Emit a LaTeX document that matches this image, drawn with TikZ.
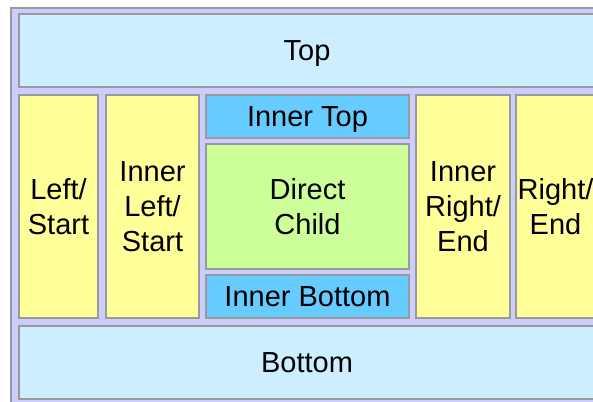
\documentclass[tikz,border=0pt]{standalone}
\usepackage{fontspec}
\setmainfont{Liberation Sans}
\definecolor{lav}{HTML}{CCCCFF}
\definecolor{edge}{HTML}{999999}
\definecolor{paleblue}{HTML}{CCEEFF}
\definecolor{paleyellow}{HTML}{FFFF99}
\definecolor{skyblue}{HTML}{66CCFF}
\definecolor{palegreen}{HTML}{CCFF99}
\tikzset{
  box/.style={draw=edge, line width=1.5pt, inner sep=0pt, outer sep=0pt,
    anchor=north west, align=center, font=\fontsize{29}{35}\selectfont},
  oneline/.style={text depth=0pt},
  edgebox/.style={box, fill=paleblue, oneline},
  sidebox/.style={box, fill=paleyellow},
  innerbox/.style={box, fill=skyblue, oneline},
  childbox/.style={box, fill=palegreen}
}
\begin{document}
\begin{tikzpicture}[x=1pt,y=-1pt]
\useasboundingbox (0,0) rectangle (593,401);
\clip (0,0) rectangle (593,401);
\fill[white] (0,0) rectangle (593,401);
\node[box, fill=lav, line width=2pt, minimum width=592pt, minimum height=398pt] (outer) at (11,8) {};
\node[edgebox, minimum width=576pt, minimum height=73pt] (top) at (19,14) {Top};
\node[sidebox, minimum width=79pt, minimum height=223pt] (left) at (19,95) {Left/\\Start};
\node[sidebox, minimum width=93pt, minimum height=223pt] (innerleft) at (106,95) {Inner\\Left/\\Start};
\node[innerbox, minimum width=203pt, minimum height=43pt] (innertop) at (206,95) {Inner Top};
\node[childbox, minimum width=203pt, minimum height=125pt] (child) at (206,144) {Direct\\Child};
\node[innerbox, minimum width=203pt, minimum height=43pt] (innerbottom) at (206,275) {Inner Bottom};
\node[sidebox, minimum width=94pt, minimum height=223pt] (innerright) at (416,95) {Inner\\Right/\\End};
\node[sidebox, minimum width=79pt, minimum height=223pt] (right) at (516,95) {Right/\\End};
\node[edgebox, minimum width=576pt, minimum height=73pt] (bottom) at (19,326) {Bottom};
\end{tikzpicture}
\end{document}
